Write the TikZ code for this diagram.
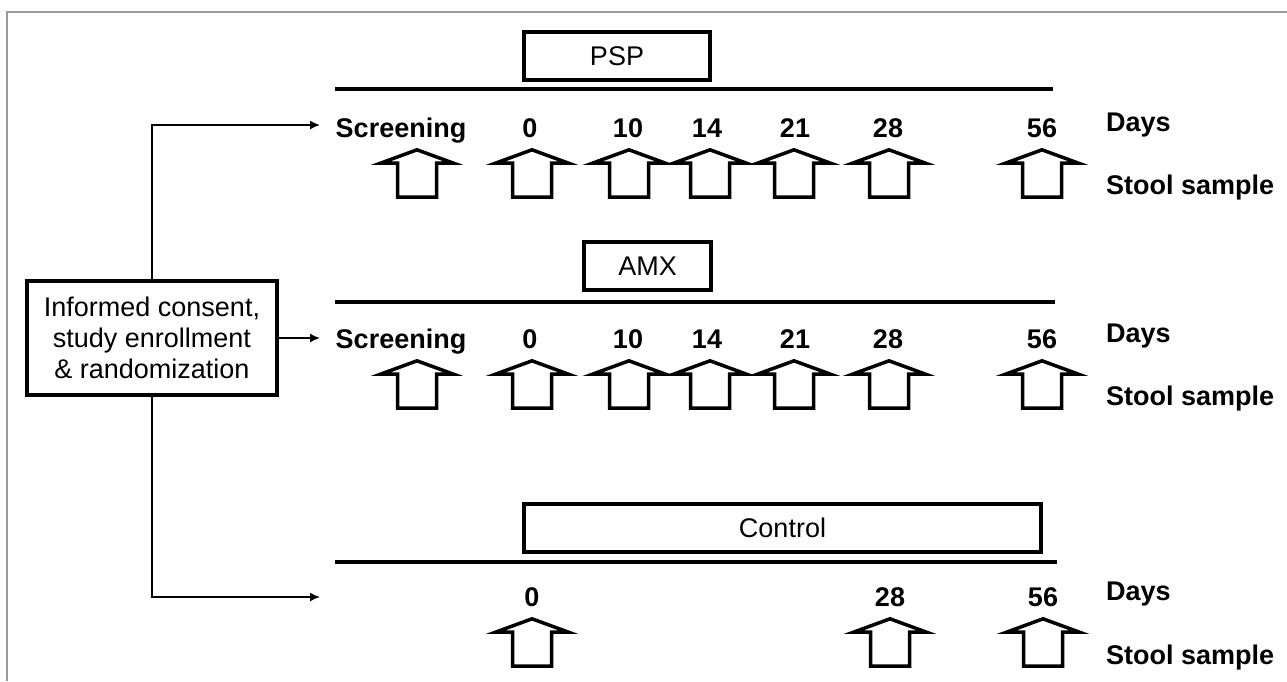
\documentclass[tikz,border=0pt]{standalone}
\usepackage{fontspec}
\setmainfont{Liberation Sans}
\usetikzlibrary{arrows.meta}
\begin{document}
\begin{tikzpicture}[x=1pt,y=-1pt,
  frame/.style={draw=black!40,line width=1.5pt},
  armbox/.style={draw,line width=3.5pt,inner sep=0pt,minimum height=48pt,font=\fontsize{27}{31}\selectfont},
  timeline/.style={line width=3.5pt},
  daylbl/.style={inner sep=0pt,anchor=base,font=\fontsize{27}{31}\selectfont\bfseries},
  sidelbl/.style={daylbl,anchor=base west},
  conn/.style={line width=1.6pt,-{Latex[length=10pt,width=9pt]}},
  sample/.pic={\draw[line width=3.5pt,line join=miter,miter limit=12]
     (0,1.8) -- (36,15) -- (19.5,15) -- (19.5,49) -- (-19.5,49) -- (-19.5,15) -- (-36,15) -- cycle;}
]
\useasboundingbox (0,0) rectangle (1287,681);
\fill[white] (0,0) rectangle (1287,681);
% outer frame (top and left edges)
\draw[frame] (7,681) -- (7,12) -- (1287,12);

% enrollment box
\node[draw,line width=4pt,inner sep=0pt,minimum width=250pt,minimum height=114pt,
      align=center,font=\fontsize{27}{31}\selectfont] (consent) at (152,338)
  {Informed consent,\\study enrollment\\\& randomization};

% ---------- PSP arm ----------
\node[armbox,minimum width=186pt] (psp) at (617,56) {PSP};
\coordinate (l1a) at (335,89); \coordinate (l1b) at (1053,89);
\draw[timeline] (l1a) -- (l1b);
\coordinate (in1) at (320,125);
\node[daylbl] (s1) at (401,137) {Screening};
\node[daylbl] (p0) at (530,137) {0};
\node[daylbl] (p10) at (628,137) {10};
\node[daylbl] (p14) at (707,137) {14};
\node[daylbl] (p21) at (795,137) {21};
\node[daylbl] (p28) at (888,137) {28};
\node[daylbl] (p56) at (1042,137) {56};
\node[sidelbl] (dy1) at (1106,131) {Days};
\node[sidelbl] (st1) at (1106,194) {Stool sample};
\foreach \x in {417,532,629,710,794,889,1042} \pic at (\x,148) {sample};

% ---------- AMX arm ----------
\node[armbox,minimum width=127pt] (amx) at (647.5,266) {AMX};
\coordinate (l2a) at (335,302); \coordinate (l2b) at (1055,302);
\draw[timeline] (l2a) -- (l2b);
\coordinate (in2) at (320,338);
\node[daylbl] (s2) at (401,348) {Screening};
\node[daylbl] (a0) at (530,348) {0};
\node[daylbl] (a10) at (628,348) {10};
\node[daylbl] (a14) at (707,348) {14};
\node[daylbl] (a21) at (795,348) {21};
\node[daylbl] (a28) at (888,348) {28};
\node[daylbl] (a56) at (1042,348) {56};
\node[sidelbl] (dy2) at (1106,342) {Days};
\node[sidelbl] (st2) at (1106,405) {Stool sample};
\foreach \x in {417,532,629,710,794,889,1042} \pic at (\x,359) {sample};

% ---------- Control arm ----------
\node[armbox,minimum width=517pt] (ctl) at (782.5,528) {Control};
\coordinate (l3a) at (335,562); \coordinate (l3b) at (1057,562);
\draw[timeline] (l3a) -- (l3b);
\coordinate (in3) at (320,597);
\node[daylbl] (c0) at (532,606) {0};
\node[daylbl] (c28) at (890,606) {28};
\node[daylbl] (c56) at (1043,606) {56};
\node[sidelbl] (dy3) at (1106,600) {Days};
\node[sidelbl] (st3) at (1106,664) {Stool sample};
\foreach \x in {532,890,1043} \pic at (\x,617) {sample};

% allocation connectors
\draw[conn] (consent.north) |- (in1);
\draw[conn] (consent.east) -- (in2);
\draw[conn] (consent.south) |- (in3);
\end{tikzpicture}
\end{document}
